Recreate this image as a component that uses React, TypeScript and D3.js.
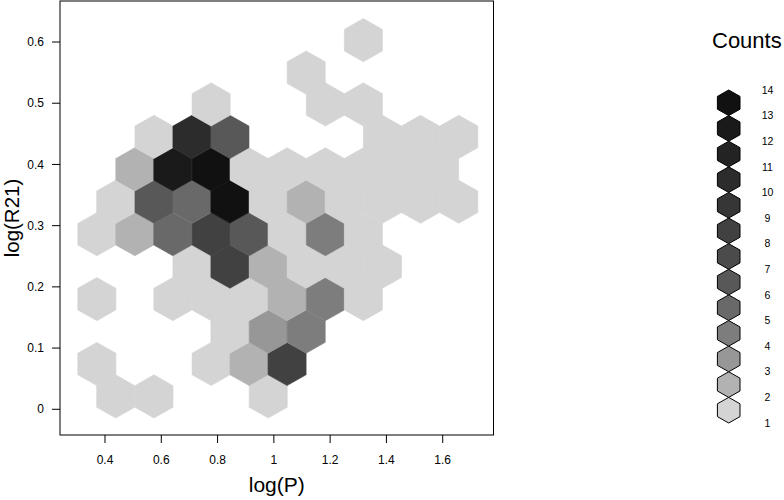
import React from "react";
import * as d3 from "d3";

// hexbin cell centres (data units) and counts
const cellX = [
  0.438, 0.574, 0.98,
  0.371, 0.777, 0.912, 1.047,
  0.844, 0.98, 1.115,
  0.371, 0.641, 0.777, 0.912, 1.047, 1.183, 1.318,
  0.709, 0.844, 0.98, 1.115, 1.25, 1.386,
  0.371, 0.506, 0.641, 0.777, 0.912, 1.047, 1.183, 1.318,
  0.438, 0.574, 0.709, 0.844, 0.98, 1.115, 1.25, 1.386, 1.521, 1.657,
  0.506, 0.641, 0.777, 0.912, 1.047, 1.183, 1.318, 1.454, 1.589,
  0.574, 0.709, 0.844, 1.386, 1.521, 1.657,
  0.777, 1.183, 1.318,
  1.115,
  1.318,
];
const cellY = [
  0.021, 0.021, 0.021,
  0.074, 0.074, 0.074, 0.074,
  0.127, 0.127, 0.127,
  0.18, 0.18, 0.18, 0.18, 0.18, 0.18, 0.18,
  0.233, 0.233, 0.233, 0.233, 0.233, 0.233,
  0.286, 0.286, 0.286, 0.286, 0.286, 0.286, 0.286, 0.286,
  0.339, 0.339, 0.339, 0.339, 0.339, 0.339, 0.339, 0.339, 0.339, 0.339,
  0.392, 0.392, 0.392, 0.392, 0.392, 0.392, 0.392, 0.392, 0.392,
  0.445, 0.445, 0.445, 0.445, 0.445, 0.445,
  0.498, 0.498, 0.498,
  0.55,
  0.603,
];
const cellCount = [
  1, 1, 1,
  1, 1, 2, 8,
  1, 3, 4,
  1, 1, 1, 1, 2, 4, 1,
  1, 8, 2, 1, 1, 1,
  1, 2, 5, 8, 6, 1, 4, 1,
  1, 6, 5, 14, 1, 2, 1, 1, 1, 1,
  2, 12, 13, 1, 1, 1, 1, 1, 1,
  1, 10, 6, 1, 1, 1,
  1, 1, 1,
  1,
  1,
];

const xTicks = [0.4, 0.6, 0.8, 1, 1.2, 1.4, 1.6];
const yTicks = [0, 0.1, 0.2, 0.3, 0.4, 0.5, 0.6];
const legendCuts = [1, 2, 3, 4, 5, 6, 7, 8, 9, 10, 11, 12, 13, 14];
const grayPalette = [
  "#d4d4d4", "#b2b2b2", "#979797", "#7d7d7d", "#696969", "#585858",
  "#4b4b4b", "#414141", "#363636", "#2c2c2c", "#232323", "#1a1a1a", "#111111",
];

const hexColStep = 0.1353; // data units between hex columns
const hexRowStep = 0.0529; // data units between hex rows

const W = 784;
const H = 500;
const frame = { l: 60, t: 1, r: 493.5, b: 435 };
const FONT = "'Liberation Sans', Arial, Helvetica, sans-serif";

function hexPath(cx: number, cy: number, hw: number, R: number) {
  const pts: [number, number][] = [
    [cx, cy - R],
    [cx + hw, cy - R / 2],
    [cx + hw, cy + R / 2],
    [cx, cy + R],
    [cx - hw, cy + R / 2],
    [cx - hw, cy - R / 2],
  ];
  return (d3.line()(pts) as string) + "Z";
}

export default function App() {
  const x = d3.scaleLinear().domain([0.2401, 1.7805]).range([frame.l, frame.r]);
  const y = d3.scaleLinear().domain([-0.042, 0.667]).range([frame.b, frame.t]);
  const color = d3
    .scaleThreshold<number, string>()
    .domain(legendCuts.slice(1, 13))
    .range(grayPalette);

  const hw = Math.abs(x(hexColStep) - x(0)) / 2;
  const R = Math.abs(y(hexRowStep) - y(0)) / 1.5;

  const legendY = d3
    .scaleLinear()
    .domain([legendCuts[legendCuts.length - 1], legendCuts[0]])
    .range([90, 423]);
  const legendX = 728.7;
  const lR = (legendY(1) - legendY(2)) / 2;
  const lhw = 11.3;

  return (
    <svg
      width={W}
      height={H}
      style={{ position: "absolute", left: 0, top: 0, display: "block", background: "#fff" }}
      fontFamily={FONT}
    >
      <rect x={0} y={0} width={W} height={H} fill="#fff" />
      {cellX.map((cx, i) => {
        const c = color(cellCount[i]);
        return (
          <path
            key={i}
            d={hexPath(x(cx), y(cellY[i]), hw, R)}
            fill={c}
            stroke={c}
            strokeWidth={0.6}
          />
        );
      })}
      <rect
        x={frame.l}
        y={frame.t}
        width={frame.r - frame.l}
        height={frame.b - frame.t}
        fill="none"
        stroke="#000"
        strokeWidth={1}
      />
      {xTicks.map((t) => (
        <g key={"xt" + t}>
          <line x1={x(t)} x2={x(t)} y1={frame.b} y2={frame.b + 8} stroke="#000" />
          <text x={x(t)} y={464.3} fontSize={12} textAnchor="middle" fill="#000">
            {String(t)}
          </text>
        </g>
      ))}
      {yTicks.map((t) => (
        <g key={"yt" + t}>
          <line x1={frame.l - 8} x2={frame.l} y1={y(t)} y2={y(t)} stroke="#000" />
          <text x={44} y={y(t)} dy="0.35em" fontSize={12} textAnchor="end" fill="#000">
            {String(t)}
          </text>
        </g>
      ))}
      <text x={(frame.l + frame.r) / 2} y={491.5} fontSize={21} textAnchor="middle" fill="#000">
        log(P)
      </text>
      <text
        transform={`translate(18.5,${(frame.t + frame.b) / 2}) rotate(-90)`}
        fontSize={20.5}
        textAnchor="middle"
        fill="#000"
      >
        log(R21)
      </text>
      <text x={712} y={48.3} fontSize={22} fill="#000">
        Counts
      </text>
      {grayPalette.map((c, i) => (
        <path
          key={"lg" + i}
          d={hexPath(legendX, legendY(legendCuts[i] + 0.5), lhw, lR)}
          fill={c}
          stroke="#000"
          strokeWidth={1}
        />
      ))}
      {legendCuts.map((v) => (
        <text
          key={"ll" + v}
          x={767.5}
          y={legendY(v)}
          dy="0.35em"
          fontSize={10.5}
          textAnchor="middle"
          fill="#000"
        >
          {String(v)}
        </text>
      ))}
    </svg>
  );
}
